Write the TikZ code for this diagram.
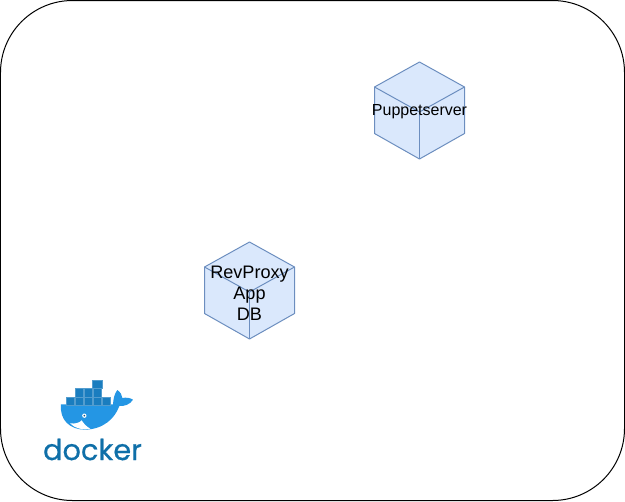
\documentclass[tikz,border=0pt]{standalone}
\usepackage{fontspec}
\setmainfont{Liberation Sans}
\newfontfamily\logofont[FakeBold=0.6]{Poppins}
\definecolor{cubefill}{HTML}{DAE8FC}
\definecolor{cubeline}{HTML}{6C8EBF}
\definecolor{whaleblue}{HTML}{2496E4}
\definecolor{crateblue}{HTML}{1A7DBF}
\definecolor{logotext}{HTML}{0F6FA8}
\tikzset{
  cube/.style={draw=cubeline, fill=cubefill, line width=0.02cm, line join=round},
  cubeedge/.style={draw=cubeline, line width=0.02cm},
  cubelabel/.style={inner sep=0pt, align=center, text=black},
  crate/.style={fill=crateblue, draw=crateblue!75!white, line width=0.004cm},
}
\begin{document}
\begin{tikzpicture}[x=0.02cm, y=-0.02cm]
  \useasboundingbox (0,0) rectangle (625,501);

  % Drawing outer frame
  \draw [line width=0.02cm, rounded corners=1.44cm] (0.5,0.5) rectangle (624.5,500.5);

  % Drawing cube Puppetserver
  \coordinate (pa) at (419.5,62);
  \coordinate (pb) at (464.5,87);
  \coordinate (pc) at (464.5,133.5);
  \coordinate (pd) at (419.5,159);
  \coordinate (pe) at (374.5,133.5);
  \coordinate (pf) at (374.5,87);
  \coordinate (pm) at (419.5,112);
  \draw [cube] (pa) -- (pb) -- (pc) -- (pd) -- (pe) -- (pf) -- cycle;
  \draw [cubeedge] (pf) -- (pm) -- (pb);
  \draw [cubeedge] (pm) -- (pd);
  \node [cubelabel, font=\fontsize{9.1pt}{11pt}\selectfont] (puppetserver) at (419.5,112) {Puppetserver};

  % Drawing cube RevProxy
  \coordinate (ra) at (249.5,242);
  \coordinate (rb) at (294.5,267);
  \coordinate (rc) at (294.5,313.5);
  \coordinate (rd) at (249.5,339);
  \coordinate (re) at (204.5,313.5);
  \coordinate (rf) at (204.5,267);
  \coordinate (rm) at (249.5,292);
  \draw [cube] (ra) -- (rb) -- (rc) -- (rd) -- (re) -- (rf) -- cycle;
  \draw [cubeedge] (rf) -- (rm) -- (rb);
  \draw [cubeedge] (rm) -- (rd);
  \node [cubelabel, font=\fontsize{10.3pt}{12pt}\selectfont] (revproxy) at (249.5,293) {RevProxy\\App\\DB};

  % Drawing docker logo
  \begin{scope}[shift={(20,360)}, x=0.006667cm, y=-0.006667cm]
    % whale
    \fill [whaleblue] (123,133) -- (279,133) .. controls (280,115) and (284,100) .. (292,90)
      .. controls (302,97) and (306,105) .. (307,114) .. controls (318,112) and (330,113) .. (339,119)
      .. controls (330,134) and (313,139) .. (298,138) .. controls (285,175) and (250,208) .. (195,209)
      .. controls (150,209) and (118,180) .. (123,133) -- cycle;
    % belly and eye
    \fill [white] (150,190) .. controls (165,192) and (178,189) .. (185,181)
      .. controls (192,192) and (200,200) .. (211,206) .. controls (190,211) and (165,206) .. (150,190) -- cycle;
    \fill [white] (193,167) circle (6.5);
    \fill [crateblue!70!black] (193,167) circle (2.8);
    % containers
    \foreach \col in {0,...,4}
      \draw [crate] (137+27*\col,110) rectangle ++(26.5,24);
    \foreach \col in {1,...,3}
      \draw [crate] (137+27*\col,85) rectangle ++(26.5,25);
    \draw [crate] (216,60) rectangle ++(29,25);
  \end{scope}
  \node [inner sep=0pt, text=logotext, font=\logofont\fontsize{16.4pt}{18pt}\selectfont] (dockertext) at (92.5,449.5) {docker};
\end{tikzpicture}
\end{document}
